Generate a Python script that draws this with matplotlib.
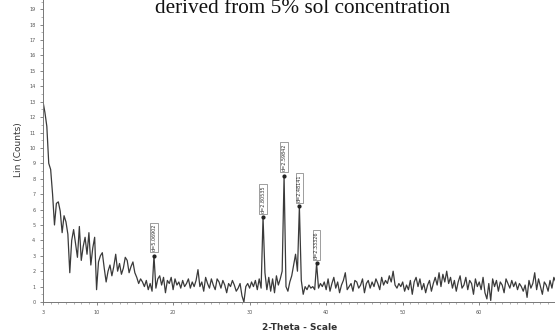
import numpy as np
import matplotlib.pyplot as plt
from matplotlib.ticker import MultipleLocator

# XRD pattern, 3-70 deg 2-theta, step 0.25 deg
counts = [
    13.0, 12.3, 11.4, 9.0,   8.6, 7.0, 5.0, 6.4,   6.5, 5.9, 4.5, 5.6,
    5.2, 4.4, 1.9, 4.0,      4.7, 3.8, 2.9, 4.9,   2.7, 3.6, 4.2, 3.1,
    4.5, 2.4, 3.5, 4.2,      0.8, 2.6, 3.0, 3.2,   2.2, 1.3, 2.0, 2.4,
    1.7, 2.3, 3.1, 2.0,      2.5, 1.8, 2.2, 2.9,   2.7, 1.9, 2.3, 2.6,
    1.9, 1.6, 1.2, 1.5,      1.3, 1.0, 1.4, 0.8,   1.2, 0.7, 3.0, 0.9,
    1.5, 1.7, 1.1, 1.6,      0.6, 1.4, 1.2, 1.6,   0.8, 1.5, 1.1, 1.3,
    0.9, 1.4, 1.0, 1.2,      1.5, 0.9, 1.3, 1.0,   1.4, 2.1, 1.0, 1.3,
    0.7, 1.6, 1.2, 0.9,      1.5, 1.1, 0.8, 1.5,   1.3, 0.9, 1.4, 1.1,
    0.6, 1.2, 1.0, 1.4,      1.1, 0.7, 0.9, 1.2,   0.4, 0.0, 1.0, 1.2,
    0.9, 1.3, 1.0, 1.4,      0.8, 1.5, 0.9, 5.5,   1.9, 0.8, 1.6, 0.7,
    1.5, 0.6, 1.7, 1.1,      1.5, 2.0, 8.2, 1.0,   0.7, 1.3, 1.7, 2.4,
    3.1, 2.0, 6.2, 1.4,      0.5, 1.0, 0.8, 1.1,   0.9, 1.0, 0.8, 2.5,
    0.9, 1.2, 1.0, 1.3,      0.8, 1.5, 0.7, 1.2,   1.6, 0.9, 1.3, 0.6,
    1.1, 1.4, 1.9, 0.8,      1.0, 1.2, 0.7, 1.4,   1.3, 0.9, 1.1, 1.5,
    0.6, 1.2, 1.4, 0.9,      1.3, 1.0, 1.5, 1.2,   0.8, 1.6, 1.1, 1.4,
    1.2, 1.7, 1.3, 2.0,      1.1, 0.9, 1.2, 1.0,   1.3, 0.7, 1.1, 0.8,
    1.4, 0.5, 1.3, 1.6,      1.0, 1.5, 0.8, 1.2,   0.6, 1.1, 1.4, 0.7,
    1.2, 1.6, 1.1, 1.9,      1.0, 1.8, 1.3, 2.0,   1.2, 1.6, 0.9, 1.4,
    0.7, 1.3, 1.7, 0.9,      1.1, 1.6, 0.8, 1.4,   1.2, 0.5, 1.5, 1.0,
    1.3, 0.8, 1.6, 0.6,      0.2, 1.2, 0.1, 1.5,   1.0, 1.4, 0.7, 1.3,
    1.1, 0.6, 1.5, 1.2,      0.9, 1.4, 1.0, 1.3,   0.8, 1.2, 1.0, 0.7,
    1.1, 0.3, 1.4, 0.9,      1.2, 1.9, 0.8, 1.5,   1.0, 0.5, 1.3, 1.1,
    0.7, 1.4, 0.9, 1.6,      1.3,
]
two_theta = np.linspace(3, 70, len(counts))

# labelled peaks
peak_pos = [17.5, 31.75, 34.5, 36.5, 38.75]
peak_height = [3.0, 5.5, 8.2, 6.2, 2.5]
peak_labels = ["d=5.06902", "d=2.80535", "d=2.59842", "d=2.48141", "d=2.33326"]

fig = plt.figure(figsize=(5.55, 3.34), dpi=100)
ax = fig.add_axes([43 / 555, 32 / 334, 512 / 555, 302 / 334])

ax.plot(two_theta, counts, color="#3a3a3a", lw=0.9)

for x, h, lab in zip(peak_pos, peak_height, peak_labels):
    ax.plot(x, h, "o", color="#222222", ms=2)
    ax.text(x, h + 0.3, lab, rotation=90, ha="center", va="bottom",
            fontsize=3.5, color="#333333",
            bbox=dict(boxstyle="square,pad=0.25", fc="white", ec="#777777", lw=0.5))

ax.set_xlim(3, 69.9)
ax.set_ylim(0, 19.6)
ax.set_xticks([3, 10, 20, 30, 40, 50, 60])
ax.xaxis.set_minor_locator(MultipleLocator(1))
ax.set_yticks(range(0, 20))
ax.yaxis.set_minor_locator(MultipleLocator(0.5))
ax.tick_params(labelsize=3.5, colors="#555555", length=2, width=0.5)
ax.tick_params(which="minor", length=1.2, width=0.4, colors="#777777")
for s in ["top", "right"]:
    ax.spines[s].set_visible(False)
for s in ["left", "bottom"]:
    ax.spines[s].set_color("#777777")
    ax.spines[s].set_linewidth(0.7)

fig.text(18 / 555, 1 - 150 / 334, "Lin (Counts)", rotation=90, ha="center", va="center",
         fontsize=6.5, color="#333333")
fig.text(300 / 555, 1 - 327 / 334, "2-Theta - Scale", ha="center", va="center",
         fontsize=6.5, color="#333333", fontweight="bold")
fig.text(303 / 555, 1 - 13 / 334, "derived from 5% sol concentration", ha="center",
         va="baseline", fontsize=15.3, family="Liberation Serif", color="#111111")

fig.savefig("out.png", dpi=100)
